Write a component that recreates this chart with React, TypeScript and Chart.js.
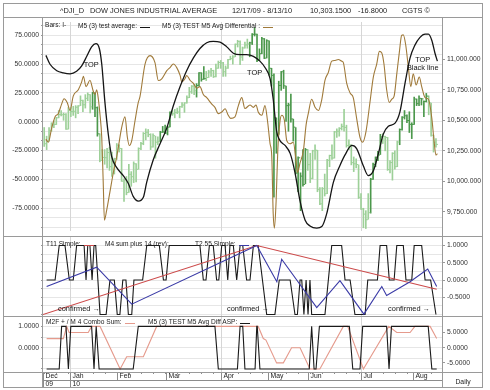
import React, { useEffect, useRef } from 'react';
import { Chart, registerables } from 'chart.js';
Chart.register(...registerables);

const FONT = "'Liberation Sans', Arial, Helvetica, sans-serif";
Chart.defaults.font.family = FONT;

// ---------------- x axis: trading-day index ----------------
const xMin = -0.5;
const xMax = 164.5;
const monthLabels = ['Dec', 'Jan', 'Feb', 'Mar', 'Apr', 'May', 'Jun', 'Jul', 'Aug'];
const monthTickPos = [-0.5, 10.7, 30.2, 50.2, 73.0, 92.4, 109.2, 131.0, 152.4];
const yearLabels = ['09', '10'];
const yearTickPos = [-0.5, 10.7];
const quarterGridPos = [10.7, 73.0, 131.0];

// ---------------- price bars (right axis) ----------------
const barHigh = [
  10441, 10370, 10440, 10480, 10495, 10525, 10580, 10580, 10560, 10555,
  10605, 10605, 10615, 10620, 10620, 10700, 10665, 10710, 10725, 10710, 10730, 10725, 10610, 10390, 10260, 10260, 10270, 10280, 10240,
  10190, 10310, 10300, 10270, 10020, 10040, 10140, 10080, 10160, 10145, 10275, 10320, 10400, 10430, 10425, 10390, 10390, 10370, 10365,
  10410, 10450, 10460, 10450, 10570, 10580, 10590, 10600, 10615, 10645, 10645, 10700, 10770, 10785, 10795, 10800, 10890, 10890, 10940, 10900, 10910, 10925, 10910,
  10960, 10985, 10990, 10975, 10945, 11000, 11025, 11030, 11125, 11155, 11150, 11100, 11140, 11165, 11140, 11210, 11258, 11205, 11085, 11180, 11170,
  11160, 11150, 10926, 10880, 10520, 10820, 10900, 10910, 10780, 10640, 10715, 10510, 10440, 10200, 10070, 10260, 10270, 10260,
  10230, 10255, 10300, 10255, 9950, 9950, 10060, 10180, 10215, 10300, 10410, 10430, 10440, 10470, 10590, 10460, 10340, 10300, 10200, 10185, 10135, 9900,
  9780, 9760, 9900, 10025, 10150, 10200, 10245, 10385, 10390, 10370, 10360, 10170, 10235, 10250, 10330, 10430, 10530, 10580, 10545, 10570, 10480,
  10690, 10675, 10700, 10680, 10660, 10720, 10700, 10640, 10378, 10350,
];
const barLow = [
  10286, 10260, 10330, 10410, 10440, 10465, 10520, 10535, 10500, 10425,
  10428, 10530, 10540, 10520, 10555, 10620, 10570, 10600, 10660, 10560, 10590, 10530, 10370, 10160, 10170, 10140, 10110, 10090, 10040,
  10060, 10180, 10240, 10000, 9835, 9890, 9910, 9960, 9990, 9995, 10100, 10260, 10300, 10340, 10365, 10260, 10280, 10190, 10300,
  10325, 10400, 10390, 10380, 10445, 10540, 10520, 10555, 10520, 10605, 10565, 10640, 10685, 10720, 10710, 10690, 10780, 10820, 10835, 10825, 10850, 10860, 10850,
  10855, 10925, 10925, 10860, 10860, 10925, 10995, 10960, 11020, 11100, 10955, 10990, 11090, 11090, 11020, 11120, 11190, 10980, 10990, 11045, 11005,
  11010, 10870, 10780, 9870, 10230, 10385, 10745, 10760, 10490, 10410, 10485, 10330, 10060, 9915, 9760, 9960, 9980, 10090,
  9990, 10020, 10180, 9915, 9810, 9760, 9880, 9900, 10120, 10180, 10190, 10360, 10370, 10420, 10410, 10280, 10260, 10135, 10080, 10110, 9860, 9770,
  9620, 9614, 9690, 9740, 10015, 10120, 10170, 10220, 10310, 10250, 10090, 10070, 10010, 10100, 10120, 10300, 10420, 10510, 10480, 10400, 10350,
  10466, 10620, 10620, 10625, 10530, 10650, 10545, 10370, 10240, 10280,
];
const barClose = [
  10308, 10328, 10414, 10464, 10466, 10520, 10547, 10545, 10548, 10428,
  10584, 10572, 10574, 10607, 10618, 10663, 10627, 10680, 10710, 10610, 10725, 10603, 10389, 10172, 10196, 10194, 10236, 10120, 10067,
  10185, 10296, 10270, 10002, 10012, 9908, 10058, 10038, 10144, 10099, 10268, 10309, 10392, 10402, 10383, 10282, 10374, 10321, 10325,
  10403, 10405, 10396, 10444, 10566, 10553, 10564, 10568, 10611, 10625, 10642, 10685, 10733, 10779, 10742, 10785, 10888, 10836, 10841, 10850, 10895, 10907, 10857,
  10927, 10973, 10970, 10897, 10927, 10997, 11005, 11019, 11123, 11145, 11018, 11092, 11117, 11125, 11134, 11204, 11205, 10991, 11045, 11167, 11009,
  11151, 10926, 10868, 10520, 10380, 10785, 10897, 10782, 10620, 10625, 10511, 10444, 10068, 10193, 10043, 9975, 10259, 10137,
  10025, 10250, 10255, 9932, 9816, 9940, 9899, 10173, 10212, 10191, 10405, 10410, 10434, 10450, 10442, 10294, 10298, 10153, 10144, 10138, 9870, 9774,
  9732, 9686, 9744, 10018, 10139, 10198, 10216, 10364, 10367, 10360, 10097, 10154, 10230, 10120, 10322, 10424, 10525, 10537, 10498, 10467, 10466,
  10674, 10636, 10680, 10675, 10654, 10698, 10644, 10378, 10320, 10303,
];
const darkBarRanges = [[20, 22], [48, 52], [63, 66], [85, 108], [135, 139], [147, 158]];

// ---------------- main panel lines (left axis) ----------------
const avgX = [0.7, 2.4, 5.2, 7.9, 10.7, 13.4, 15.5, 17.6, 19.6, 21.4, 22.8, 23.8, 25.1, 26.5, 27.9, 30.0, 32.7, 34.8, 36.8, 38.9, 41.0, 42.4, 45.1, 47.9, 50.7, 53.4, 56.2, 58.9, 61.7, 64.4, 67.2, 69.9, 72.7, 75.5, 78.2, 81.0, 83.7, 86.5, 89.2, 91.3, 93.4, 94.7, 96.1, 97.5, 99.6, 101.7, 103.7, 105.8, 107.9, 109.9, 112.7, 114.8, 116.8, 119.6, 122.3, 124.4, 127.2, 129.2, 132.0, 134.0, 136.1, 138.2, 140.2, 142.3, 145.1, 147.1, 149.2, 151.3, 153.3, 155.4, 157.5, 158.9, 160.3, 161.6, 162.6];
const avgY = [57.6, 49.9, 44.3, 42.4, 41.6, 43.8, 48.5, 56.8, 65, 67.8, 63.6, 49.9, 17, -10.9, -30.2, -39.9, -46.8, -53.7, -64.8, -68.9, -65.6, -52.4, -33, -19.2, -5.4, 13.9, 30.5, 44.3, 55.4, 63.6, 68.6, 69.8, 69.2, 65, 59.5, 58.2, 58.2, 56.8, 52.6, 47.1, 37.5, 19.5, -8.1, -16.4, -20.6, -27.5, -44.1, -69, -85.5, -90.5, -92.4, -91, -80, -52.4, -38, -28.8, -20.6, -23.3, -38.5, -46.8, -42.7, -27.5, -10.9, -4, -1.2, 8.5, 33.3, 55.4, 66.5, 73.3, 76.1, 76.1, 70.6, 59.5, 52.6];

const diffX = [0.7, 1.7, 3.1, 4.5, 5.8, 7.2, 8.2, 9.5, 10.7, 12.0, 14.1, 15.5, 16.2, 17.3, 18.9, 20.3, 21.0, 21.7, 22.4, 23.1, 23.8, 24.4, 24.9, 25.8, 27.2, 28.6, 30.0, 31.1, 32.0, 33.4, 34.4, 35.2, 36.2, 37.5, 38.9, 39.6, 41.7, 43.8, 45.8, 47.2, 48.6, 50.7, 52.0, 53.4, 54.8, 56.2, 56.9, 58.2, 58.9, 60.3, 61.7, 63.1, 64.4, 65.8, 67.2, 69.3, 70.6, 72.0, 73.4, 74.8, 76.1, 77.1, 78.9, 80.3, 81.7, 83.0, 85.1, 86.5, 87.6, 88.5, 90.0, 91.3, 92.3, 93.4, 94.1, 94.7, 95.2, 95.9, 96.6, 97.5, 98.2, 99.3, 100.3, 101.7, 103.0, 104.1, 104.7, 105.8, 107.2, 108.3, 109.2, 110.6, 112.0, 113.4, 114.8, 116.1, 117.5, 118.9, 120.3, 121.6, 123.0, 123.7, 125.1, 126.5, 127.8, 129.2, 130.6, 131.7, 133.1, 134.7, 136.1, 137.5, 138.6, 139.6, 140.5, 141.6, 142.7, 143.7, 144.7, 145.8, 146.9, 147.8, 148.5, 149.5, 150.6, 151.6, 152.6, 153.8, 155.1, 156.1, 157.5, 158.9, 160.3, 161.2, 162.0, 162.6];
const diffY = [-15.1, -17.8, -5.4, 4.3, 7, 15.3, 20, 16.7, 9.8, 22.2, 27.8, 34.6, 39.4, 30.5, 36, 26.4, 23.6, 27.8, 19.5, 5.6, -13.7, -52.4, -85.5, -77.2, -60.7, -44.1, -30.2, -16.4, -5.4, 4.3, -13.7, -20.6, -16.4, 0.2, 16.7, 21.7, 50.1, 57.4, 51.3, 35.8, 37.3, 44.3, 47, 50.1, 47, 40.2, 34.6, 37.3, 40.2, 36, 33.3, 29.2, 30.5, 23.6, 20.9, 15.3, 12.5, 7, 8.4, 11.2, 5.6, 2.9, 4.3, 14, 20.9, 11.5, 14.5, 12.5, 14.5, 8.4, 5.6, 14, 1.5, -19.1, -30.1, -80, -92.4, -69, -24.8, 0.2, 5.6, 1.5, -16.4, -19.1, -17.8, -33, -44.1, -35.8, -24.8, -2.7, 7, 19.5, 12.6, 9.8, 19.5, 36, 42.9, 52.6, 53.2, 54, 52.6, 51.3, 33.3, 25, 20.9, 2.9, -13.7, -17.8, -8.1, 16.7, 38.8, 50.1, 61.1, 59.7, 50.1, 28, 16.7, 19.5, 22.2, 41.6, 61.1, 74.9, 75.4, 66.6, 47, 30.5, 41.6, 31.9, 38.8, 30.5, 20.9, 19.5, 2.9, -16.4, -29, -27.7];

const mainLeftMajor = [75, 50, 25, 0, -25, -50, -75];
const mainRightMajor = [11000, 10750, 10500, 10250, 10000, 9750];
const mainNotes = [
  { text: 'TOP', x: 16.3, y: 49.6 },
  { text: 'TOP', x: 83.9, y: 42.1 },
  { text: 'TOP', x: 153.4, y: 53.2 },
  { text: 'Black line', x: 150.0, y: 46.8 },
];

// ---------------- middle panel ----------------
const m4X = [1.0, 4.5, 6.2, 8.6, 10.4, 12.0, 13.4, 16.5, 17.3, 18.0, 18.9, 19.8, 20.6, 21.3, 23.1, 25.6, 27.2, 29.0, 30.2, 31.3, 32.5, 33.8, 34.8, 36.2, 37.1, 40.7, 42.4, 47.6, 49.3, 50.4, 51.7, 64.4, 65.8, 66.9, 68.3, 69.9, 71.3, 72.2, 73.4, 74.8, 75.9, 76.8, 78.2, 79.6, 81.0, 82.1, 83.7, 85.1, 86.5, 88.5, 92.0, 95.4, 97.2, 101.7, 103.7, 104.7, 105.8, 106.5, 107.4, 108.3, 109.1, 109.9, 110.6, 116.1, 118.9, 123.0, 124.4, 126.5, 128.5, 132.7, 133.8, 137.8, 138.9, 141.6, 142.7, 144.7, 145.8, 148.5, 149.6, 152.0, 153.0, 156.1, 157.5, 159.8, 162.0];
const m4Y = [0, 0, 1, 1, 0, 0, 1, 1, 0, 1, 1, 0, 1, 1, -1, -1, 0, 0, -1, -1, 0, 0, -1, -1, 0, 0, 1, 1, 0, 0, 1, 1, 0, 0, 1, 1, 0, 0, 1, 1, 0, 1, 1, 0, 1, 1, 0, 0, 1, 1, -1, -1, 0, 0, -1, -1, 0, 0, -1, 0, -1, 0, -1, -1, 1, 1, 0, 0, -1, -1, 0, 0, 1, 1, 0, 0, 1, 1, 0, 0, 1, 1, 0, 0, -1];
const t11X = [-0.5, 87.9, 162.3];
const t11Y = [-1.0, 1.0, -0.27];
const t255X = [1.0, 21.7, 36.2, 87.9, 96.2, 98.2, 112.7, 122.3, 132.2, 139.6, 141.6, 151.3, 158.6, 162.3];
const t255Y = [-0.19, 0.37, -0.70, 1.0, -0.05, 0.6, -0.8, -0.02, -0.99, -0.19, -0.45, -0.05, 0.32, -0.19];
const midRightMajor = [1, 0.5, 0, -0.5];
const midNotes = [
  { text: 'confirmed \u2192', x: 5.7, y: -0.84 },
  { text: 'confirmed \u2192', x: 75.6, y: -0.84 },
  { text: 'confirmed \u2192', x: 142.2, y: -0.84 },
];

// ---------------- bottom panel ----------------
const aspX = [1.0, 6.2, 7.2, 9.0, 10.0, 11.0, 19.6, 20.6, 21.5, 22.7, 36.8, 38.9, 70.6, 72.0, 79.9, 81.0, 82.1, 83.0, 87.2, 87.9, 88.1, 89.2, 109.6, 110.6, 111.6, 112.4, 113.8, 126.2, 127.6, 130.6, 131.7, 141.6, 142.6, 143.6, 158.8, 160.3, 162.3];
const aspY = [-1, -1, 1, 1, -1, 1, 1, -1, 1, -1, -1, 1, 1, -1, -1, 1, 1, -1, -1, 1, 1, -1, -1, 1, -1, -1, 1, 1, -1, -1, 1, 1, -1, 1, 1, -1, -1];
const comboX = [1.0, 7.9, 9.3, 10.3, 18.2, 19.6, 23.1, 31.4, 34.1, 41.0, 46.5, 88.5, 90.6, 91.7, 96.1, 98.9, 102.3, 105.8, 109.9, 114.0, 123.7, 125.5, 132.0, 142.5, 145.8, 151.3, 153.3, 159.6, 162.3];
const comboY = [3, 3, 7, 5, 5, 7, 7, -7, -3, -3, 7, 7, 3, 2.5, -5, -5, 0, 0, -7, -7, 7, 7, -7, 7, 5, 5, 7, 7, 3];
const botLeftMajor = [1, 0];
const botRightMajor = [5, 0, -5];

// ---------------- helpers ----------------
const pts = (xs: number[], ys: number[]) => xs.map((x, i) => ({ x, y: ys[i] }));
const gridValues = (min: number, max: number, step: number) => {
  const out: number[] = [];
  for (let k = Math.ceil(min / step - 1e-9); k * step <= max + 1e-9; k++) out.push(+(k * step).toFixed(6));
  return out;
};
const isMajor = (v: number, list: number[]) => list.some((m) => Math.abs(m - v) < 1e-6);
const tickFont = { size: 6.8, family: FONT };
const LEFT_W = 43;
const RIGHT_W = 48;

const leftAxis = (min: number, max: number, grid: number[], major: number[], showLabels: boolean, fmt: (v: number) => string) => ({
  type: 'linear',
  position: 'left',
  min,
  max,
  afterBuildTicks: (s: any) => { s.ticks = grid.map((v) => ({ value: v })); },
  afterFit: (s: any) => { s.width = LEFT_W; s.paddingTop = 0; s.paddingBottom = 0; },
  ticks: {
    display: showLabels,
    font: tickFont,
    color: '#333',
    padding: 2,
    autoSkip: false,
    callback: (v: number) => (isMajor(v, major) ? fmt(v) : ''),
  },
  grid: { color: '#e6e6e6', lineWidth: 1, tickLength: 2, tickColor: '#999' },
  border: { display: false },
});

const rightAxis = (min: number, max: number, major: number[], fmt: (v: number) => string) => ({
  type: 'linear',
  position: 'right',
  min,
  max,
  afterBuildTicks: (s: any) => { s.ticks = major.map((v) => ({ value: v })); },
  afterFit: (s: any) => { s.width = RIGHT_W; s.paddingTop = 0; s.paddingBottom = 0; },
  ticks: { font: tickFont, color: '#333', padding: 2, autoSkip: false, callback: (v: number) => fmt(v) },
  grid: { drawOnChartArea: false, tickLength: 3, tickColor: '#999' },
  border: { display: false },
});

const xAxis = { type: 'linear', min: xMin, max: xMax, display: false, offset: false };

const quarterLines = {
  id: 'quarterLines',
  beforeDatasetsDraw(chart: any) {
    const { ctx, chartArea: a, scales } = chart;
    ctx.save();
    ctx.strokeStyle = '#d6d6d6';
    ctx.lineWidth = 1;
    quarterGridPos.forEach((v) => {
      const px = Math.round(scales.x.getPixelForValue(v)) + 0.5;
      ctx.beginPath();
      ctx.moveTo(px, a.top);
      ctx.lineTo(px, a.bottom);
      ctx.stroke();
    });
    ctx.restore();
  },
};

const notesPlugin = (notes: { text: string; x: number; y: number }[], axisId: string) => ({
  id: 'notes_' + axisId,
  afterDatasetsDraw(chart: any) {
    const { ctx, scales } = chart;
    ctx.save();
    ctx.fillStyle = '#111';
    ctx.font = `7.4px ${FONT}`;
    ctx.textAlign = 'left';
    ctx.textBaseline = 'middle';
    notes.forEach((n) => {
      ctx.fillText(n.text, scales.x.getPixelForValue(n.x), scales[axisId].getPixelForValue(n.y));
    });
    ctx.restore();
  },
});

const dateAxisPlugin = {
  id: 'dateAxis',
  afterDraw(chart: any) {
    const { ctx, chartArea: a, scales } = chart;
    const top = a.bottom;
    ctx.save();
    ctx.strokeStyle = '#8c8c8c';
    ctx.lineWidth = 1;
    for (let i = 0; i < barClose.length; i += 5) {
      const px = Math.round(scales.x.getPixelForValue(i)) + 0.5;
      ctx.beginPath();
      ctx.moveTo(px, top);
      ctx.lineTo(px, top + 2);
      ctx.stroke();
    }
    ctx.fillStyle = '#222';
    ctx.font = `6.8px ${FONT}`;
    ctx.textAlign = 'left';
    ctx.textBaseline = 'middle';
    monthTickPos.forEach((v, i) => {
      const px = Math.round(scales.x.getPixelForValue(v)) + 0.5;
      ctx.beginPath();
      ctx.moveTo(px, top);
      ctx.lineTo(px, top + 8);
      ctx.stroke();
      ctx.fillText(monthLabels[i], px + 2, top + 4.5);
    });
    ctx.beginPath();
    ctx.moveTo(a.left, top + 8.5);
    ctx.lineTo(a.right, top + 8.5);
    ctx.stroke();
    yearTickPos.forEach((v, i) => {
      const px = Math.round(scales.x.getPixelForValue(v)) + 0.5;
      ctx.beginPath();
      ctx.moveTo(px, top + 8);
      ctx.lineTo(px, top + 16);
      ctx.stroke();
      ctx.fillText(yearLabels[i], px + 2, top + 12.5);
    });
    ctx.restore();
  },
};

const baseOptions = {
  animation: false,
  responsive: false,
  maintainAspectRatio: false,
  layout: { padding: 0 },
  events: [],
  plugins: { legend: { display: false }, tooltip: { enabled: false } },
};

const lineDs = (data: any[], axis: string, color: string, width: number, smooth: boolean, order: number) => ({
  type: 'line',
  data,
  yAxisID: axis,
  borderColor: color,
  borderWidth: width,
  pointRadius: 0,
  fill: false,
  tension: smooth ? 0.4 : 0,
  cubicInterpolationMode: smooth ? 'monotone' : 'default',
  order,
});

function mainConfig(): any {
  const colors = barClose.map((_, i) => (darkBarRanges.some(([a, b]) => i >= a && i <= b) ? '#4c984c' : '#9dd098'));
  return {
    type: 'bar',
    data: {
      datasets: [
        lineDs(pts(avgX, avgY), 'yL', '#151515', 1.3, true, 1),
        lineDs(pts(diffX, diffY), 'yL', '#a07a3a', 1.1, true, 2),
        {
          type: 'line',
          data: barClose.map((c, i) => ({ x: i + 0.45, y: c })),
          yAxisID: 'yR',
          showLine: false,
          pointStyle: 'line',
          pointRadius: 1,
          pointBorderWidth: 1,
          pointBorderColor: colors,
          order: 3,
        },
        {
          type: 'bar',
          data: barHigh.map((h, i) => ({ x: i, y: [barLow[i], h] })),
          yAxisID: 'yR',
          backgroundColor: colors,
          barThickness: 1,
          order: 4,
        },
      ],
    },
    options: {
      ...baseOptions,
      scales: {
        x: xAxis,
        yL: leftAxis(-94.9, 86.6, gridValues(-94.9, 86.6, 25 / 3), mainLeftMajor, true, (v) => v.toFixed(4)),
        yR: rightAxis(9593.75, 11304.7, mainRightMajor, (v) =>
          v.toLocaleString('en-US', { minimumFractionDigits: 3, maximumFractionDigits: 3 })),
      },
    },
    plugins: [quarterLines, notesPlugin(mainNotes, 'yL')],
  };
}

function midConfig(): any {
  return {
    type: 'line',
    data: {
      datasets: [
        lineDs(pts(m4X, m4Y), 'yL', '#1a1a1a', 1.1, false, 3),
        lineDs(pts(t11X, t11Y), 'yL', '#cc4a4a', 1.1, false, 2),
        lineDs(pts(t255X, t255Y), 'yL', '#3a3aa6', 1.1, false, 1),
      ],
    },
    options: {
      ...baseOptions,
      scales: {
        x: xAxis,
        yL: leftAxis(-1.043, 1.275, gridValues(-1.043, 1.275, 0.25), [], false, (v) => v.toFixed(4)),
        yR: rightAxis(-1.043, 1.275, midRightMajor, (v) => v.toFixed(4)),
      },
    },
    plugins: [quarterLines, notesPlugin(midNotes, 'yL')],
  };
}

function botConfig(): any {
  return {
    type: 'line',
    data: {
      datasets: [
        lineDs(pts(comboX, comboY), 'yR', '#e59a8c', 1.1, false, 2),
        lineDs(pts(aspX, aspY), 'yL', '#1a1a1a', 1.1, false, 1),
      ],
    },
    options: {
      ...baseOptions,
      layout: { padding: { bottom: 16 } },
      scales: {
        x: xAxis,
        yL: leftAxis(-1.141, 1.488, gridValues(-1.141, 1.488, 0.5), botLeftMajor, true, (v) => v.toFixed(4)),
        yR: rightAxis(-8.0, 10.43, botRightMajor, (v) => v.toFixed(4)),
      },
    },
    plugins: [quarterLines, dateAxisPlugin],
  };
}

const lineColor = '#9a9a9a';
const abs = (style: any) => ({ position: 'absolute' as const, ...style });

function Legend({ top, items }: { top: number; items: { text: string; left: number; color?: string }[] }) {
  return (
    <>
      {items.map((it, i) => (
        <div key={i} style={abs({ left: it.left, top, fontSize: 6.6, lineHeight: '8px', color: '#222', whiteSpace: 'nowrap' })}>
          {it.text}
          {it.color ? (
            <span style={{ display: 'inline-block', width: 10, marginLeft: 3, borderBottom: `1px solid ${it.color}`, height: 6 }} />
          ) : null}
        </div>
      ))}
    </>
  );
}

export default function App() {
  const mainRef = useRef<HTMLCanvasElement>(null);
  const midRef = useRef<HTMLCanvasElement>(null);
  const botRef = useRef<HTMLCanvasElement>(null);

  useEffect(() => {
    const charts = [
      new Chart(mainRef.current as HTMLCanvasElement, mainConfig()),
      new Chart(midRef.current as HTMLCanvasElement, midConfig()),
      new Chart(botRef.current as HTMLCanvasElement, botConfig()),
    ];
    return () => charts.forEach((c) => c.destroy());
  }, []);

  const titleStyle = { top: 6, fontSize: 7.4, lineHeight: '9px', color: '#222', whiteSpace: 'nowrap' };

  return (
    <div style={abs({ left: 0, top: 0, width: 490, height: 390, background: '#fff', fontFamily: FONT, overflow: 'hidden' })}>
      <canvas ref={mainRef} width={490} height={219} style={abs({ left: 0, top: 17, width: 490, height: 219 })} />
      <canvas ref={midRef} width={490} height={80} style={abs({ left: 0, top: 236, width: 490, height: 80 })} />
      <canvas ref={botRef} width={490} height={72} style={abs({ left: 0, top: 316, width: 490, height: 72 })} />

      <div style={abs({ left: 3, top: 3, width: 480, height: 385, border: `1px solid ${lineColor}`, boxSizing: 'border-box' })} />
      {[17, 236, 316, 372].map((y) => (
        <div key={y} style={abs({ left: 3, top: y, width: 480, height: 1, background: lineColor })} />
      ))}
      <div style={abs({ left: 42, top: 17, width: 1, height: 371, background: lineColor })} />
      <div style={abs({ left: 442, top: 17, width: 1, height: 371, background: lineColor })} />

      <div style={abs({ left: 60, ...titleStyle })}>^DJI_D</div>
      <div style={abs({ left: 90, ...titleStyle })}>DOW JONES INDUSTRIAL AVERAGE</div>
      <div style={abs({ left: 232, ...titleStyle })}>12/17/09 - 8/13/10</div>
      <div style={abs({ left: 310, ...titleStyle })}>10,303.1500</div>
      <div style={abs({ left: 358, ...titleStyle })}>-16.8000</div>
      <div style={abs({ left: 402, ...titleStyle })}>CGTS ©</div>

      <Legend
        top={21}
        items={[
          { text: 'Bars: I-', left: 45 },
          { text: 'M5 (3) test average:', left: 78, color: '#151515' },
          { text: 'M5 (3) TEST M5 Avg Differential :', left: 162, color: '#a07a3a' },
        ]}
      />
      <Legend
        top={239}
        items={[
          { text: 'T11 Simple:', left: 46, color: '#cc4a4a' },
          { text: 'M4 sum plus 14 (rev):', left: 105, color: '#1a1a1a' },
          { text: 'T2.55 Simple:', left: 195, color: '#3a3aa6' },
        ]}
      />
      <Legend
        top={317}
        items={[
          { text: 'M2F + / M 4 Combo Sum:', left: 46, color: '#e59a8c' },
          { text: 'M5 (3) TEST M5 Avg Diff ASP:', left: 148, color: '#1a1a1a' },
        ]}
      />
      <div style={abs({ left: 443, top: 377, width: 40, textAlign: 'center', fontSize: 6.8, lineHeight: '9px', color: '#222' })}>Daily</div>
    </div>
  );
}
